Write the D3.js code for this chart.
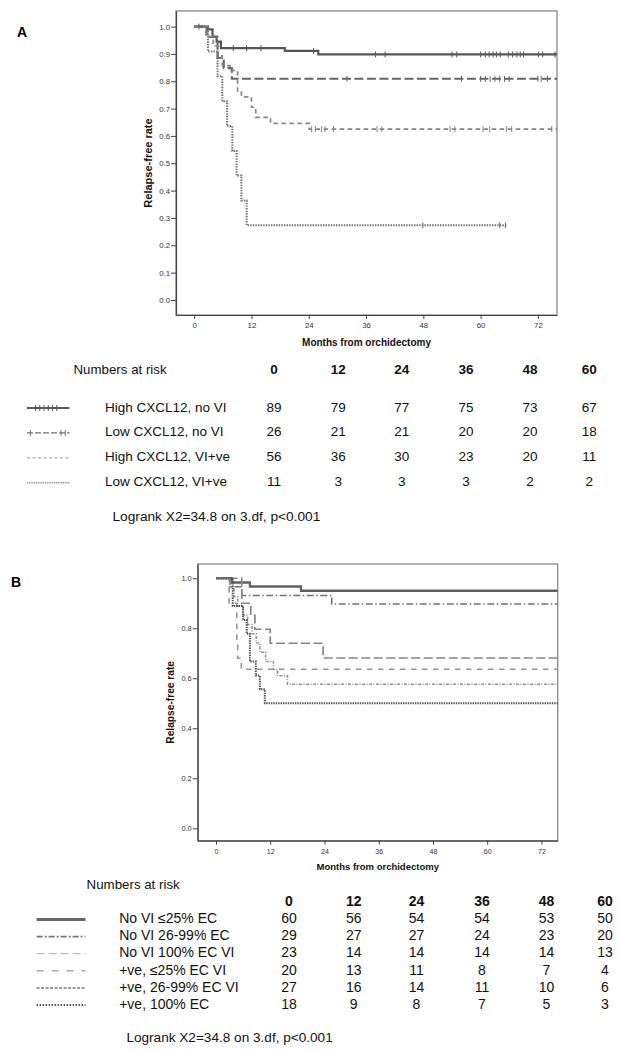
<!DOCTYPE html>
<html>
<head>
<meta charset="utf-8">
<script src="https://cdn.jsdelivr.net/npm/d3@7"></script>
<style>
  body { margin: 0; background: #fff; }
  svg { display: block; font-family: "Liberation Sans", Arial, sans-serif; }
</style>
</head>
<body>
<div id="chart"></div>
<script>
// ---- data ----
var monthTicks = [0, 12, 24, 36, 48, 60, 72];
var riskCols = [0, 12, 24, 36, 48, 60];

// panel A: step points [month, relapse-free rate] and censor months
var groupsA = ["High CXCL12, no VI", "Low CXCL12, no VI", "High CXCL12, VI+ve", "Low CXCL12, VI+ve"];
var stepsA1 = [[0, 1], [2.9, 0.99], [3.85, 0.963], [4.7, 0.945], [5.6, 0.921], [19, 0.911], [26, 0.898]];
var stepsA2 = [[0, 1], [2.6, 0.962], [4.9, 0.885], [6.2, 0.848], [7.9, 0.809]];
var stepsA3 = [[0, 1], [2.5, 0.964], [4, 0.929], [5, 0.893], [5.9, 0.857], [7.5, 0.84], [9.1, 0.765],
               [9.9, 0.743], [12, 0.705], [12.9, 0.668], [16, 0.646], [24.1, 0.625]];
var stepsA4 = [[0, 1], [2.9, 0.909], [4.9, 0.818], [5.9, 0.727], [6.9, 0.636], [8, 0.545], [8.9, 0.455],
               [9.9, 0.364], [11, 0.273]];
var endA = [76, 76, 76, 65.4];
var censorA1 = [1, 8.2, 11, 14, 25, 38, 40, 54, 55, 60, 61, 61.8, 62.6, 63.3, 64.1, 65.8, 66.7, 67.6, 68.3, 69, 72.1, 73, 75.6];
var censorA2 = [32, 56, 60, 61, 62, 63, 64, 65, 66, 72, 72.7, 74];
var censorA3 = [24.6, 25.4, 26.7, 27.4, 29.2, 38.3, 39.3, 53.6, 54.6, 60.5, 61.9, 65.4, 66.5, 74.9];
var censorA4 = [47.9, 64, 65.2];
var riskA = [[89, 79, 77, 75, 73, 67],
             [26, 21, 21, 20, 20, 18],
             [56, 36, 30, 23, 20, 11],
             [11, 3, 3, 3, 2, 2]];

// panel B
var groupsB = ["No VI \u226425% EC", "No VI 26-99% EC", "No VI 100% EC VI", "+ve, \u226425% EC VI", "+ve, 26-99% EC VI", "+ve, 100% EC"];
var stepsB1 = [[0, 1], [3.5, 0.983], [7.5, 0.967], [18.8, 0.95]];
var stepsB2 = [[0, 1], [3.1, 0.966], [5.7, 0.931], [25.6, 0.897]];
var stepsB3 = [[0, 1], [5.7, 0.9], [7.7, 0.853], [8.6, 0.796], [12, 0.74], [23.7, 0.681]];
var stepsB4 = [[0, 1], [2.9, 0.9], [4.6, 0.75], [4.8, 0.68], [5.6, 0.636]];
var stepsB5 = [[0, 1], [3, 0.963], [4, 0.926], [4.8, 0.889], [6, 0.852], [7, 0.815], [8, 0.778], [8.9, 0.741],
               [9.7, 0.704], [11, 0.667], [12.7, 0.635], [13.6, 0.61], [15.8, 0.576]];
var stepsB6 = [[0, 1], [3.7, 0.889], [6, 0.833], [6.8, 0.778], [7.5, 0.667], [8.8, 0.611], [9.7, 0.556], [10.8, 0.5]];
var riskB = [[60, 56, 54, 54, 53, 50],
             [29, 27, 27, 24, 23, 20],
             [23, 14, 14, 14, 14, 13],
             [20, 13, 11, 8, 7, 4],
             [27, 16, 14, 11, 10, 6],
             [18, 9, 8, 7, 5, 3]];

var logrank = "Logrank X2=34.8 on 3.df, p<0.001";

// ---- styles ----
var styleA = [
  {stroke: "#555", width: 2.2, dash: null},
  {stroke: "#666", width: 2.1, dash: "9 3.5"},
  {stroke: "#888", width: 1.7, dash: "4.5 3.5"},
  {stroke: "#6e6e6e", width: 2, dash: "1.4 1.2"}
];
var styleB = [
  {stroke: "#616161", width: 2.3, dash: null},
  {stroke: "#727272", width: 1.6, dash: "7 2.5 1.5 2.5"},
  {stroke: "#858585", width: 1.7, dash: "9 3.5"},
  {stroke: "#959595", width: 1.6, dash: "5.5 5.5"},
  {stroke: "#939393", width: 1.6, dash: "3 1.5 1 1.5"},
  {stroke: "#4e4e4e", width: 2, dash: "1.4 1"}
];
var legendB = [
  {stroke: "#666", width: 3, dash: null},
  {stroke: "#777", width: 1.6, dash: "6 2 2 2"},
  {stroke: "#aaa", width: 1, dash: "8 4"},
  {stroke: "#aaa", width: 1.6, dash: "7 8"},
  {stroke: "#999", width: 2, dash: "3 1.5"},
  {stroke: "#555", width: 2, dash: "1.5 1.5"}
];

var font = "Liberation Sans, Arial, sans-serif";
var width = 620, height = 1050;

var svg = d3.select("#chart").append("svg")
    .attr("width", width)
    .attr("height", height);

//draws one Kaplan-Meier panel
function drawPanel(opt) {
  var x = d3.scaleLinear().domain(opt.xDom).range([opt.left, opt.right]);
  var y = d3.scaleLinear().domain(opt.yDom).range([opt.bottom, opt.top]);
  var g = svg.append("g");

  // frame
  g.append("rect")
    .attr("x", opt.left).attr("y", opt.top)
    .attr("width", opt.right - opt.left).attr("height", opt.bottom - opt.top)
    .attr("fill", "none").attr("stroke", "#8a8a8a").attr("stroke-width", 1.3);

  var xAxis = g.append("g")
    .attr("transform", "translate(0," + opt.bottom + ")")
    .call(d3.axisBottom(x).tickValues(monthTicks).tickSize(4).tickPadding(opt.xPad).tickSizeOuter(0));
  var yAxis = g.append("g")
    .attr("transform", "translate(" + opt.left + ",0)")
    .call(d3.axisLeft(y).tickValues(opt.yTicks).tickFormat(d3.format(".1f")).tickSize(5).tickPadding(1).tickSizeOuter(0));

  [xAxis, yAxis].forEach(function(a) {
    a.attr("font-family", font);
    a.select(".domain").attr("stroke", "#444").attr("stroke-width", 1.2);
    a.selectAll(".tick line").attr("stroke", "#444");
    a.selectAll(".tick text").attr("fill", "#333");
  });
  xAxis.attr("font-size", opt.xFont);
  yAxis.attr("font-size", opt.yFont);

  g.append("text")
    .attr("x", (opt.left + opt.right) / 2).attr("y", opt.xTitleY)
    .attr("text-anchor", "middle").attr("dominant-baseline", "middle")
    .attr("font-weight", "bold").attr("font-size", opt.xTitleFont).attr("fill", "#111")
    .text("Months from orchidectomy");

  g.append("text")
    .attr("transform", "translate(" + opt.yTitleX + "," + ((opt.top + opt.bottom) / 2) + ") rotate(-90)")
    .attr("text-anchor", "middle").attr("dominant-baseline", "middle")
    .attr("font-weight", "bold").attr("font-size", opt.yTitleFont).attr("fill", "#111")
    .text("Relapse-free rate");

  var line = d3.line()
    .x(function(d) { return x(d[0]); })
    .y(function(d) { return y(d[1]); })
    .curve(d3.curveStepAfter);

  opt.series.forEach(function(s, i) {
    var pts = s.steps.concat([[s.end, s.steps[s.steps.length - 1][1]]]);
    var st = opt.styles[i];
    g.append("path")
      .attr("d", line(pts))
      .attr("fill", "none")
      .attr("stroke", st.stroke)
      .attr("stroke-width", st.width)
      .attr("stroke-dasharray", st.dash);

    // censor ticks
    g.selectAll(null)
      .data(s.censor || [])
      .enter().append("line")
      .attr("x1", function(t) { return x(t); })
      .attr("x2", function(t) { return x(t); })
      .attr("y1", function(t) { return y(valueAt(s.steps, t)) - 3; })
      .attr("y2", function(t) { return y(valueAt(s.steps, t)) + 3; })
      .attr("stroke", st.stroke)
      .attr("stroke-width", 1);
  });
}

//survival value of a step series at a given month
function valueAt(steps, t) {
  var v = steps[0][1];
  steps.forEach(function(p) { if (p[0] <= t) v = p[1]; });
  return v;
}

//draws the numbers-at-risk table under a panel
function drawTable(opt) {
  var g = svg.append("g")
    .attr("font-family", font)
    .attr("fill", "#111");

  g.append("text")
    .attr("x", opt.titleX).attr("y", opt.titleY)
    .attr("dominant-baseline", "middle")
    .attr("font-size", opt.titleFont)
    .text("Numbers at risk");

  g.selectAll(".colhead")
    .data(riskCols)
    .enter().append("text")
    .attr("x", function(d, i) { return opt.colX[i]; })
    .attr("y", opt.headY)
    .attr("text-anchor", "middle").attr("dominant-baseline", "middle")
    .attr("font-weight", "bold").attr("font-size", opt.font)
    .text(function(d) { return d; });

  opt.groups.forEach(function(name, r) {
    var ry = opt.rowY0 + r * opt.rowStep;
    var st = opt.legend[r];
    g.append("line")
      .attr("x1", opt.lineX[0]).attr("x2", opt.lineX[1])
      .attr("y1", ry).attr("y2", ry)
      .attr("stroke", st.stroke).attr("stroke-width", st.width)
      .attr("stroke-dasharray", st.dash);
    if (st.ticks) {
      st.ticks.forEach(function(f) {
        var tx = opt.lineX[0] + f * (opt.lineX[1] - opt.lineX[0]);
        g.append("line")
          .attr("x1", tx).attr("x2", tx).attr("y1", ry - 3).attr("y2", ry + 3)
          .attr("stroke", st.stroke).attr("stroke-width", 1);
      });
    }
    g.append("text")
      .attr("x", opt.labelX).attr("y", ry)
      .attr("dominant-baseline", "middle")
      .attr("font-size", opt.font)
      .text(name);
    g.selectAll(null)
      .data(opt.risk[r])
      .enter().append("text")
      .attr("x", function(d, i) { return opt.colX[i]; })
      .attr("y", ry)
      .attr("text-anchor", "middle").attr("dominant-baseline", "middle")
      .attr("font-size", opt.font)
      .text(function(d) { return d; });
  });

  g.append("text")
    .attr("x", opt.logX).attr("y", opt.logY)
    .attr("dominant-baseline", "middle")
    .attr("font-size", opt.logFont)
    .text(logrank);
}

// panel letters
svg.append("text").attr("x", 17).attr("y", 33).attr("dominant-baseline", "middle")
  .attr("font-family", font).attr("font-weight", "bold").attr("font-size", 14).text("A");
svg.append("text").attr("x", 11).attr("y", 583).attr("dominant-baseline", "middle")
  .attr("font-family", font).attr("font-weight", "bold").attr("font-size", 14).text("B");

drawPanel({
  left: 176, right: 557, top: 11, bottom: 315,
  xDom: [-3.8, 76], yDom: [-0.055, 1.057],
  yTicks: d3.range(0, 11).map(function(i) { return i / 10; }),
  xFont: 7.8, yFont: 7.8, xPad: 3,
  xTitleY: 343, xTitleFont: 10, yTitleX: 149, yTitleFont: 11,
  styles: styleA,
  series: [
    {steps: stepsA1, end: endA[0], censor: censorA1},
    {steps: stepsA2, end: endA[1], censor: censorA2},
    {steps: stepsA3, end: endA[2], censor: censorA3},
    {steps: stepsA4, end: endA[3], censor: censorA4}
  ]
});

drawPanel({
  left: 197.7, right: 557.7, top: 564, bottom: 840.7,
  xDom: [-4.05, 75.6], yDom: [-0.0496, 1.057],
  yTicks: [0, 0.2, 0.4, 0.6, 0.8, 1.0],
  xFont: 7, yFont: 7.4, xPad: 4,
  xTitleY: 867, xTitleFont: 9.5, yTitleX: 171.7, yTitleFont: 10.2,
  styles: styleB,
  series: [
    {steps: stepsB1, end: 75.6},
    {steps: stepsB2, end: 75.6},
    {steps: stepsB3, end: 75.6},
    {steps: stepsB4, end: 75.6},
    {steps: stepsB5, end: 75.6},
    {steps: stepsB6, end: 75.6}
  ]
});

drawTable({
  groups: groupsA, risk: riskA,
  legend: [
    {stroke: "#5a5a5a", width: 2.2, dash: null, ticks: [0.2, 0.3, 0.4, 0.5, 0.6, 0.7]},
    {stroke: "#707070", width: 1.4, dash: "6 2", ticks: [0.08, 0.8, 0.9]},
    {stroke: "#aaa", width: 1.2, dash: "3 2.5"},
    {stroke: "#888", width: 1.5, dash: "1 0.8"}
  ],
  titleX: 73.5, titleY: 370, titleFont: 13.3,
  headY: 370, colX: [274, 338.3, 401.7, 466, 530, 589.3],
  rowY0: 408, rowStep: 24.9,
  lineX: [27, 69.5], labelX: 105, font: 13.5,
  logX: 112.5, logY: 517, logFont: 13.7
});

drawTable({
  groups: groupsB, risk: riskB, legend: legendB,
  titleX: 86.6, titleY: 885, titleFont: 13.3,
  headY: 902, colX: [289, 353.7, 416.5, 482, 546.5, 605],
  rowY0: 919.5, rowStep: 17.1,
  lineX: [36.6, 85.5], labelX: 119.2, font: 14,
  logX: 126.4, logY: 1038, logFont: 13.6
});
</script>
</body>
</html>
